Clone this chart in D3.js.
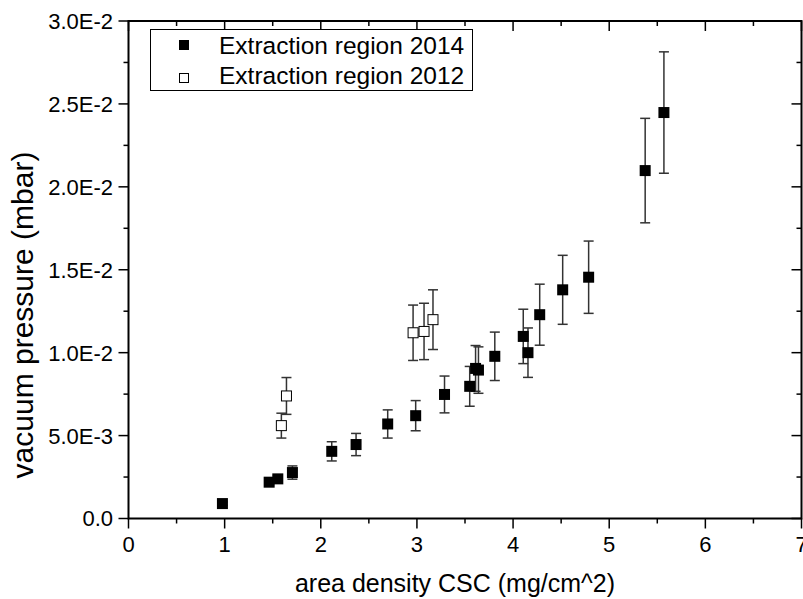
<!DOCTYPE html>
<html>
<head>
<meta charset="utf-8">
<script src="https://cdn.jsdelivr.net/npm/d3@7"></script>
<style>
  body { margin: 0; background: #fff; }
  svg { display: block; font-family: "Liberation Sans", Arial, sans-serif; }
</style>
</head>
<body>
<svg width="803" height="599"></svg>
<script>
// area density (mg/cm^2), vacuum pressure (mbar), error (mbar)
var x2014 = [0.977, 1.463, 1.553, 1.705, 2.114, 2.367, 2.696, 2.987, 3.287, 3.549, 3.61, 3.64, 3.81, 4.106, 4.155, 4.277, 4.516, 4.786, 5.374, 5.569];
var y2014 = [0.90e-3, 2.19e-3, 2.39e-3, 2.77e-3, 4.05e-3, 4.46e-3, 5.70e-3, 6.20e-3, 7.48e-3, 7.97e-3, 9.05e-3, 8.95e-3, 9.78e-3, 10.98e-3, 10.00e-3, 12.29e-3, 13.79e-3, 14.55e-3, 20.98e-3, 24.48e-3];
var e2014 = [0.10e-3, 0.15e-3, 0.20e-3, 0.40e-3, 0.58e-3, 0.67e-3, 0.85e-3, 0.91e-3, 1.11e-3, 1.20e-3, 1.38e-3, 1.40e-3, 1.46e-3, 1.64e-3, 1.49e-3, 1.84e-3, 2.08e-3, 2.18e-3, 3.15e-3, 3.66e-3];

var x2012 = [1.59, 1.643, 2.96, 3.074, 3.167];
var y2012 = [5.60e-3, 7.39e-3, 11.20e-3, 11.28e-3, 11.99e-3];
var e2012 = [0.75e-3, 1.11e-3, 1.67e-3, 1.70e-3, 1.80e-3];

var xTicks = [0, 1, 2, 3, 4, 5, 6, 7];
var yTicks = [0, 0.005, 0.01, 0.015, 0.02, 0.025, 0.03];
var yTickLabels = ['0.0', '5.0E-3', '1.0E-2', '1.5E-2', '2.0E-2', '2.5E-2', '3.0E-2'];
var legendLabels = ['Extraction region 2014', 'Extraction region 2012'];

var svg = d3.select('svg');
var pLeft = 128.5, pRight = 801.5, pTop = 21, pBottom = 518.5;

var x = d3.scaleLinear().domain([0, 7]).range([pLeft, pRight]);
var y = d3.scaleLinear().domain([0, 0.03]).range([pBottom, pTop]);

var xMinor = d3.range(0.5, 7, 1);
var yMinor = d3.range(0.0025, 0.03, 0.005);

function pack(xs, ys, es) {
    return xs.map(function (d, i) { return { x: d, y: ys[i], e: es[i] }; });
}
var s2014 = pack(x2014, y2014, e2014);
var s2012 = pack(x2012, y2012, e2012);

// ticks: outward on bottom/left, inward on top/right
var tk = svg.append('g').attr('stroke', '#000').attr('stroke-width', 1.5);
function xTick(t, len) {
    tk.append('line').attr('x1', x(t)).attr('x2', x(t)).attr('y1', pBottom).attr('y2', pBottom + len);
    tk.append('line').attr('x1', x(t)).attr('x2', x(t)).attr('y1', pTop).attr('y2', pTop + len);
}
function yTick(t, len) {
    tk.append('line').attr('y1', y(t)).attr('y2', y(t)).attr('x1', pLeft).attr('x2', pLeft - len);
    tk.append('line').attr('y1', y(t)).attr('y2', y(t)).attr('x1', pRight).attr('x2', pRight - len);
}
xTicks.forEach(function (t) { xTick(t, 10); });
xMinor.forEach(function (t) { xTick(t, 5); });
yTicks.forEach(function (t) { yTick(t, 10); });
yMinor.forEach(function (t) { yTick(t, 5); });

// frame
svg.append('rect')
    .attr('x', pLeft).attr('y', pTop)
    .attr('width', pRight - pLeft).attr('height', pBottom - pTop)
    .attr('fill', 'none').attr('stroke', '#000').attr('stroke-width', 2);

// tick labels
svg.append('g').selectAll('text').data(xTicks).enter().append('text')
    .attr('x', function (d) { return x(d); })
    .attr('y', 552)
    .attr('text-anchor', 'middle')
    .attr('font-size', 22)
    .text(function (d) { return d; });

svg.append('g').selectAll('text').data(yTicks).enter().append('text')
    .attr('x', 113)
    .attr('y', function (d) { return y(d); })
    .attr('dy', '0.36em')
    .attr('text-anchor', 'end')
    .attr('font-size', 22)
    .text(function (d, i) { return yTickLabels[i]; });

// axis titles
svg.append('text')
    .attr('x', 455).attr('y', 592)
    .attr('text-anchor', 'middle')
    .attr('font-size', 25)
    .text('area density CSC (mg/cm^2)');

svg.append('text')
    .attr('transform', 'translate(33,315) rotate(-90)')
    .attr('text-anchor', 'middle')
    .attr('font-size', 30)
    .text('vacuum pressure (mbar)');

// error bars
function errorBars(data) {
    var g = svg.append('g').attr('stroke', '#333').attr('stroke-width', 1.5);
    data.forEach(function (d) {
        var cx = x(d.x), y0 = y(d.y - d.e), y1 = y(d.y + d.e);
        g.append('line').attr('x1', cx).attr('x2', cx).attr('y1', y0).attr('y2', y1);
        g.append('line').attr('x1', cx - 5).attr('x2', cx + 5).attr('y1', y0).attr('y2', y0);
        g.append('line').attr('x1', cx - 5).attr('x2', cx + 5).attr('y1', y1).attr('y2', y1);
    });
}
errorBars(s2014);
errorBars(s2012);

var sz = 11;
svg.append('g').selectAll('rect').data(s2014).enter().append('rect')
    .attr('x', function (d) { return x(d.x) - sz / 2; })
    .attr('y', function (d) { return y(d.y) - sz / 2; })
    .attr('width', sz).attr('height', sz)
    .attr('fill', '#000');

svg.append('g').selectAll('rect').data(s2012).enter().append('rect')
    .attr('x', function (d) { return x(d.x) - sz / 2 + 0.5; })
    .attr('y', function (d) { return y(d.y) - sz / 2 + 0.5; })
    .attr('width', sz - 1).attr('height', sz - 1)
    .attr('fill', '#fff').attr('stroke', '#000').attr('stroke-width', 1);

// legend
var lg = svg.append('g');
lg.append('rect')
    .attr('x', 150.5).attr('y', 29.5).attr('width', 322).attr('height', 61)
    .attr('fill', '#fff').attr('stroke', '#000').attr('stroke-width', 1);
lg.append('rect').attr('x', 179).attr('y', 40).attr('width', 10).attr('height', 10).attr('fill', '#000');
lg.append('rect').attr('x', 179.5).attr('y', 73.5).attr('width', 9).attr('height', 9)
    .attr('fill', '#fff').attr('stroke', '#000').attr('stroke-width', 1);
lg.selectAll('text').data(legendLabels).enter().append('text')
    .attr('x', 219)
    .attr('y', function (d, i) { return 54 + i * 30; })
    .attr('font-size', 24.5)
    .text(function (d) { return d; });
</script>
</body>
</html>
